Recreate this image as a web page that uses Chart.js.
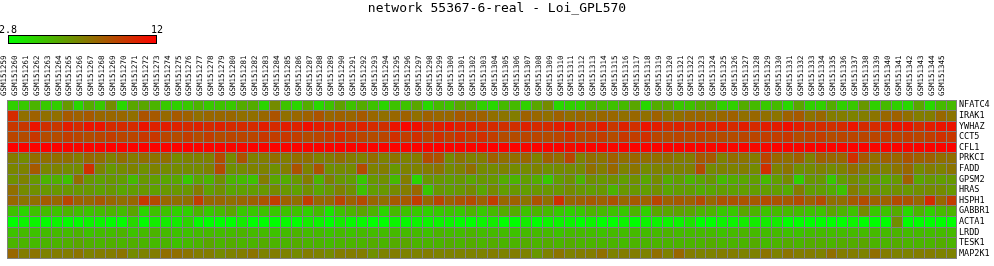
<!DOCTYPE html>
<html>
<head>
<meta charset="utf-8">
<title>network 55367-6-real - Loi_GPL570</title>
<script src="https://cdn.jsdelivr.net/npm/chart.js@4.4.2/dist/chart.umd.min.js"></script>
<style>
  html, body { margin: 0; padding: 0; background: #fff; }
  #wrap { width: 994px; height: 266px; }
</style>
</head>
<body>
<div id="wrap"><canvas id="heat" width="994" height="266"></canvas></div>
<script>
// ---------- DATA ----------
const TITLE = "network 55367-6-real - Loi_GPL570";
const V_MIN = 2.8;
const V_MAX = 12;

const genes = ["NFATC4", "IRAK1", "YWHAZ", "CCT5", "CFL1", "PRKCI", "FADD", "GPSM2",
               "HRAS", "HSPH1", "GABBR1", "ACTA1", "LRDD", "TESK1", "MAP2K1"];

// GSM151259 ... GSM151345
const samples = Array.from({ length: 87 }, (_, i) => "GSM" + (151259 + i));

const nfatc4 = [4.5,4.8,5.5,4.8,4.6,6.5,4.2,5.8,4.8,7.0,4.2,6.0,6.0,5.5,4.8,
  4.5,4.8,5.5,4.8,5.0,4.8,5.8,5.8,4.3,7.0,5.0,4.3,5.8,4.2,5.0,
  6.2,5.0,5.8,5.0,4.3,5.0,5.0,6.0,4.2,5.3,5.0,6.0,5.7,4.5,
  4.2,5.3,5.3,4.5,6.0,7.0,4.2,4.5,4.5,5.5,5.3,5.0,5.3,6.0,4.2,
  5.8,5.8,4.8,5.0,5.8,5.8,4.5,4.5,5.8,5.3,4.8,5.3,4.2,6.0,
  4.5,4.5,5.8,4.5,4.8,6.5,4.5,5.3,4.5,4.2,6.0,4.2,5.3,5.3];
const irak1 = [10.5,8.0,8.5,8.0,8.0,8.8,8.5,8.8,8.3,8.3,8.3,8.0,9.0,8.8,8.2,
  8.8,8.5,8.0,8.3,8.3,8.3,8.0,8.0,8.3,9.0,8.0,8.3,8.5,9.0,8.3,
  8.5,8.3,8.8,8.3,8.0,8.3,8.5,8.0,8.5,8.3,8.3,8.8,8.5,8.5,
  8.0,7.8,7.5,8.5,8.3,8.0,8.5,8.0,8.3,8.0,8.3,8.3,8.0,8.3,8.0,
  8.5,7.8,8.0,8.3,8.3,8.0,8.3,8.5,8.0,8.3,8.0,7.8,8.5,8.8,
  7.8,8.3,7.5,7.5,7.3,7.5,7.8,8.3,8.5,8.0,7.5,7.5,8.3,7.8];
const ywhaz = [10.0,10.0,11.3,10.3,10.0,11.0,10.5,11.3,11.3,10.5,10.5,10.5,11.3,10.8,11.0,
  10.8,10.5,10.8,10.5,10.8,10.5,10.5,10.5,11.0,10.5,11.0,10.8,11.5,11.0,10.8,
  11.0,10.5,10.8,10.5,10.3,11.3,11.8,11.5,10.5,11.0,11.3,10.8,11.0,10.5,
  10.5,10.3,10.3,10.8,10.5,10.5,11.0,11.3,10.3,10.5,11.0,10.0,10.8,10.3,11.3,
  11.0,10.5,10.8,10.5,11.0,10.8,11.0,10.5,11.0,10.5,11.0,11.0,11.5,11.0,
  10.5,10.5,10.3,10.5,11.3,10.5,10.5,10.8,11.3,11.3,10.5,11.0,11.3,11.3];
const cct5 = [9.5,9.3,10.0,9.3,9.3,9.8,9.5,9.3,9.5,9.8,9.5,9.5,10.0,10.0,9.5,
  9.3,9.8,9.3,9.8,9.3,9.5,9.5,9.5,10.0,9.8,10.0,9.8,9.3,9.5,9.8,
  10.3,9.8,9.5,9.3,9.5,10.3,9.8,10.3,9.5,10.3,9.8,10.3,9.8,10.3,
  9.8,9.3,9.3,9.5,9.5,9.3,9.5,10.0,9.3,9.5,9.8,9.3,10.0,9.8,10.3,
  9.5,9.3,9.5,9.3,9.5,9.3,9.3,9.3,9.5,9.5,9.8,9.8,10.0,9.3,
  9.5,9.8,9.3,9.5,9.5,9.5,9.5,9.8,9.5,9.8,9.5,9.8,10.3,10.0];
const cfl1 = [12.0,11.9,11.9,12.0,11.9,11.9,11.8,11.9,11.9,12.0,11.9,11.9,12.0,11.9,11.9,
  11.9,12.0,11.9,11.9,11.9,11.8,11.8,11.9,11.9,11.9,11.9,11.9,11.9,11.9,11.9,
  12.0,11.9,11.9,11.9,11.9,11.9,11.9,11.9,11.9,12.0,11.9,11.9,11.9,11.9,
  12.0,11.9,11.9,11.8,11.9,11.9,11.9,11.6,11.9,11.9,11.9,11.8,11.9,11.9,11.9,
  11.9,11.9,11.9,11.9,11.9,11.8,11.9,11.8,11.9,11.7,11.8,11.9,11.9,11.8,
  11.9,11.9,11.9,11.9,11.9,11.9,11.8,11.9,11.9,11.8,11.9,11.9,11.9,11.9];
const prkci = [7.5,7.0,8.0,8.0,8.0,8.0,7.5,8.2,8.0,7.3,8.0,7.5,8.0,7.8,8.0,
  7.0,7.3,7.3,7.3,9.3,7.0,9.0,7.3,7.5,8.0,7.5,8.0,8.0,7.3,7.5,
  8.0,7.5,7.3,8.0,7.3,7.8,7.3,7.5,9.3,9.0,7.0,7.8,7.3,7.5,
  8.5,8.0,8.0,8.3,7.3,8.5,8.0,9.5,7.3,8.0,7.8,8.5,8.0,8.3,8.0,
  8.0,8.0,7.5,7.5,8.8,8.8,7.3,8.0,7.8,7.5,9.5,8.3,8.0,8.5,
  7.3,8.5,8.3,8.3,10.3,8.8,8.0,8.5,8.3,9.0,8.5,8.5,8.0,8.0];
const fadd = [7.2,7.3,8.8,7.2,7.3,7.0,7.0,10.3,7.2,6.5,7.0,7.3,6.8,7.3,7.0,
  7.0,7.0,7.0,7.3,9.3,6.8,7.0,7.3,7.3,6.8,7.5,9.0,7.3,9.0,6.8,
  7.0,7.0,9.3,7.3,7.5,6.5,7.3,7.3,7.5,7.8,7.0,7.3,8.0,7.0,
  7.0,7.3,7.0,7.0,7.3,6.8,7.0,7.0,7.0,8.0,7.5,8.3,7.3,7.8,7.0,
  7.3,7.3,7.3,7.3,9.3,7.0,7.3,7.3,7.5,7.0,10.3,7.3,7.8,6.8,
  7.0,7.3,7.0,7.3,8.0,7.5,7.5,7.3,7.8,8.3,7.0,7.5,7.3,7.8];
const gpsm2 = [6.8,7.3,6.5,5.5,5.7,5.0,8.0,6.5,6.2,6.5,6.3,5.3,6.5,6.3,6.0,
  6.0,4.8,6.0,5.5,6.8,5.5,5.3,5.0,7.5,6.0,5.8,6.5,7.5,5.5,7.3,
  6.5,6.3,4.8,6.5,6.8,5.3,7.5,4.3,6.5,6.5,6.3,6.5,6.0,6.5,
  6.5,5.8,5.5,6.3,5.8,4.8,6.3,6.8,5.5,6.8,6.5,6.8,6.3,6.8,6.0,
  7.0,5.8,6.3,5.5,6.0,6.5,5.3,5.8,6.0,6.3,5.3,6.3,7.0,4.5,
  6.5,6.5,4.8,6.3,7.0,6.5,6.3,6.0,6.5,8.5,6.0,6.5,6.3,6.5];
const hras = [8.0,7.0,6.8,6.5,6.5,6.5,6.5,6.5,6.2,6.5,6.0,6.3,6.5,6.2,6.5,
  6.5,6.5,7.5,6.2,6.8,6.0,6.2,6.3,6.5,7.0,6.5,6.2,6.8,6.0,6.5,
  7.3,6.8,5.0,6.3,6.5,7.0,7.5,8.3,4.8,6.5,6.3,6.5,7.0,6.0,
  7.0,6.3,6.5,6.3,6.5,6.5,6.5,7.0,6.5,6.3,6.5,5.5,6.5,6.5,6.3,
  6.8,6.0,6.3,6.3,5.8,6.0,6.3,6.2,6.3,6.3,6.3,6.3,5.8,7.5,
  6.3,6.3,5.8,5.0,7.5,6.8,6.5,6.5,6.8,6.5,6.8,7.0,7.0,6.5];
const hsph1 = [8.3,7.8,8.0,8.7,8.3,9.5,8.5,8.3,8.8,8.3,8.0,8.3,10.0,9.3,8.3,
  8.0,8.0,9.8,8.3,8.3,8.0,8.3,8.5,9.0,9.8,8.5,8.0,9.8,8.3,8.3,
  9.5,8.5,9.3,8.3,8.0,8.8,8.8,9.8,8.3,9.5,8.5,9.0,9.3,8.5,
  9.8,8.3,8.5,7.8,9.0,8.0,10.3,8.3,8.5,8.8,8.5,9.0,8.3,8.8,8.5,
  9.5,8.5,8.8,8.5,9.3,8.3,9.0,9.0,9.0,8.8,9.3,9.0,8.8,9.3,
  8.5,9.3,8.0,8.0,8.8,9.3,8.5,8.5,9.3,9.0,8.3,10.5,8.3,9.8];
const gabbr1 = [5.0,4.3,5.0,5.2,5.0,5.5,5.2,5.0,5.2,5.5,5.2,6.0,4.3,5.0,5.0,
  4.5,4.5,5.5,4.8,5.3,6.0,4.8,4.8,5.0,4.8,5.0,5.0,4.5,5.3,3.8,
  5.0,5.5,6.0,5.5,4.3,5.3,5.0,4.8,4.5,4.8,5.0,4.8,5.5,4.8,
  5.3,5.8,5.8,5.0,5.5,5.3,4.8,4.5,4.8,5.5,5.3,5.0,4.8,5.5,4.5,
  6.0,6.0,6.2,6.0,5.5,5.5,4.8,4.8,6.0,5.5,5.0,5.3,5.3,5.3,
  5.0,5.0,6.0,5.5,5.0,7.0,4.8,5.0,5.8,4.2,5.5,4.5,5.3,5.5];
const acta1 = [2.8,3.2,3.2,2.9,3.2,2.9,2.9,3.2,3.2,2.9,2.9,4.2,2.9,3.5,3.5,
  3.5,4.3,3.0,2.8,2.8,2.8,3.5,2.8,2.8,2.8,3.0,2.8,3.5,3.2,2.8,
  3.5,3.0,3.0,2.8,2.8,3.2,3.0,3.2,3.2,3.2,3.2,2.9,2.8,3.2,
  3.5,2.8,2.8,3.5,2.8,3.2,3.2,3.2,2.8,3.2,2.8,2.8,3.2,2.8,3.2,
  3.2,3.2,3.2,3.8,2.8,2.8,3.2,3.2,3.5,3.5,3.5,3.5,2.8,2.8,
  2.8,2.8,2.8,2.8,3.2,2.8,2.8,2.8,6.8,2.8,2.8,2.8,2.8,2.8];
const lrdd = [5.0,5.3,5.0,5.2,5.3,5.2,5.5,5.0,5.2,5.2,5.5,5.0,5.3,5.5,5.3,
  5.0,5.0,5.2,5.3,5.2,5.3,5.5,5.3,5.3,5.0,5.2,5.5,5.2,5.3,5.0,
  5.3,5.0,5.3,5.2,5.2,5.3,5.3,5.3,5.0,5.5,5.3,5.2,5.5,5.2,
  5.3,5.2,5.0,5.3,5.3,5.3,5.0,5.3,5.3,5.2,5.0,5.3,5.2,5.3,5.2,
  5.3,5.5,5.3,5.3,5.3,5.3,5.0,5.3,5.5,5.3,5.2,5.3,5.0,5.0,
  5.2,5.3,5.2,5.2,5.3,5.3,5.3,5.3,5.5,5.2,5.3,5.2,5.3,5.3];
const tesk1 = [5.5,5.5,5.3,5.5,5.5,5.7,6.0,5.7,5.5,5.7,5.5,5.7,5.5,5.3,5.5,
  5.0,5.3,5.5,6.0,5.5,5.8,5.5,5.5,5.8,5.5,5.5,5.8,5.5,5.5,5.3,
  5.5,5.5,5.5,5.8,5.5,5.8,6.0,5.5,5.5,5.5,5.8,5.5,5.8,5.5,
  5.8,5.5,5.5,5.8,5.5,5.8,5.5,5.8,5.5,5.5,5.5,5.5,5.3,5.5,5.5,
  5.5,5.5,5.5,5.5,5.5,5.8,5.5,5.5,5.5,5.8,5.3,5.5,5.8,5.5,
  5.8,5.8,5.5,5.8,5.8,6.0,5.5,5.5,5.8,5.5,5.5,5.5,5.8,5.5];
const map2k1 = [8.3,7.5,7.8,7.3,7.5,7.5,7.8,7.3,7.5,7.5,7.8,7.0,7.3,7.5,8.0,
  8.0,7.8,7.5,7.5,7.0,7.3,7.5,7.8,7.3,7.5,7.3,7.0,7.5,7.3,7.0,
  7.5,7.5,7.5,6.8,7.3,7.5,7.3,7.3,7.5,7.3,7.3,7.3,7.3,7.3,
  7.5,7.3,7.5,7.3,6.5,7.3,7.8,7.3,7.5,7.5,8.0,7.3,7.5,7.5,7.3,
  8.0,7.3,8.3,7.5,7.3,7.3,7.5,7.5,7.3,7.3,7.8,7.3,7.8,7.5,
  7.5,7.3,8.0,7.5,7.5,7.3,8.0,7.5,7.3,7.3,7.5,7.5,7.3,7.3];

const rows = [nfatc4, irak1, ywhaz, cct5, cfl1, prkci, fadd, gpsm2,
              hras, hsph1, gabbr1, acta1, lrdd, tesk1, map2k1];

// ---------- COLOURS ----------
const GRID = "#808080";
const MONO = "'DejaVu Sans Mono', monospace";

function heatColor(v) {
  let t = (v - V_MIN) / (V_MAX - V_MIN);
  t = Math.max(0, Math.min(1, t));
  return `rgb(${Math.round(255 * t)},${Math.round(255 * (1 - t))},0)`;
}

// colour key in the top-left corner
const colorKey = {
  id: "colorKey",
  afterDraw(chart) {
    const ctx = chart.ctx;
    const x0 = 8, x1 = 157, y0 = 35, h = 9;
    ctx.save();
    const grad = ctx.createLinearGradient(x0, 0, x1, 0);
    grad.addColorStop(0, heatColor(V_MIN));
    grad.addColorStop(0.5, heatColor((V_MIN + V_MAX) / 2));
    grad.addColorStop(1, heatColor(V_MAX));
    ctx.fillStyle = grad;
    ctx.fillRect(x0, y0, x1 - x0, h);
    ctx.strokeStyle = "#000";
    ctx.lineWidth = 1;
    ctx.strokeRect(x0 + 0.5, y0 + 0.5, x1 - x0 - 1, h - 1);
    ctx.fillStyle = "#000";
    ctx.font = "10px " + MONO;
    ctx.textAlign = "center";
    ctx.textBaseline = "alphabetic";
    ctx.fillText(String(V_MIN), x0, 33);
    ctx.fillText(String(V_MAX), x1, 33);
    ctx.restore();
  }
};

// ---------- CHART ----------
const datasets = rows.map((vals, r) => ({
  label: genes[r],
  data: vals.map(() => [r, r + 1]),
  backgroundColor: vals.map(heatColor),
  borderWidth: 0,
  grouped: false,
  barPercentage: 1,
  categoryPercentage: 1,
  xAxisID: "x",
  yAxisID: "y"
}));

new Chart(document.getElementById("heat"), {
  type: "bar",
  data: { labels: samples, datasets },
  plugins: [colorKey],
  options: {
    responsive: false,
    animation: false,
    layout: { padding: { left: 0, right: 0, top: 0, bottom: 2 } },
    plugins: {
      legend: { display: false },
      tooltip: { enabled: false },
      title: {
        display: true,
        text: TITLE,
        color: "#000",
        font: { family: MONO, size: 13, weight: "normal", lineHeight: 1.2 },
        padding: { top: 1, bottom: 38.4 }
      }
    },
    scales: {
      x: {
        type: "category",
        position: "top",
        offset: true,
        grid: { offset: true, color: GRID, lineWidth: 1, z: 1, drawTicks: false },
        border: { display: false },
        ticks: {
          autoSkip: false, minRotation: 90, maxRotation: 90, padding: 4,
          color: "#000", font: { family: MONO, size: 7.5 }
        },
        afterFit: (s) => { s.height = 45; }
      },
      y: {
        type: "linear",
        display: false,
        reverse: true,
        min: 0,
        max: genes.length
      },
      genes: {
        type: "category",
        position: "right",
        labels: genes,
        offset: true,
        grid: { offset: true, color: GRID, lineWidth: 1, z: 1, drawTicks: false },
        border: { display: false },
        ticks: { autoSkip: false, padding: 2, color: "#000", font: { family: MONO, size: 8.5 } },
        afterFit: (s) => { s.width = 37; }
      }
    }
  }
});
</script>
</body>
</html>
